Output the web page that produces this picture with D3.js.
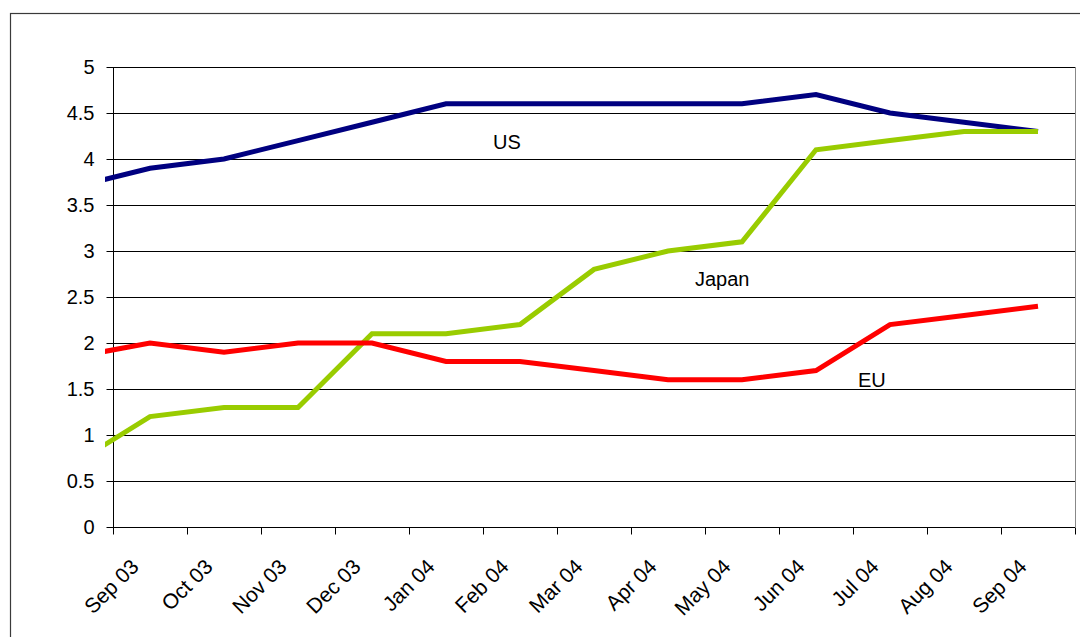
<!DOCTYPE html>
<html>
<head>
<meta charset="utf-8">
<script src="https://cdn.jsdelivr.net/npm/d3@7"></script>
<style>
  html, body { margin: 0; padding: 0; background: #fff; }
  svg { display: block; font-family: "Liberation Sans", Arial, sans-serif; }
</style>
</head>
<body>
<svg id="chart" width="1080" height="637"></svg>
<script>
// Monthly interest rates, %; the first entry (Aug 03) runs in from outside the axis.
const months = ["Aug 03", "Sep 03", "Oct 03", "Nov 03", "Dec 03", "Jan 04", "Feb 04", "Mar 04",
                "Apr 04", "May 04", "Jun 04", "Jul 04", "Aug 04", "Sep 04"];
const usRates    = [3.7, 3.9, 4.0, 4.2, 4.4, 4.6, 4.6, 4.6, 4.6, 4.6, 4.7, 4.5, 4.4, 4.3];
const japanRates = [0.7, 1.2, 1.3, 1.3, 2.1, 2.1, 2.2, 2.8, 3.0, 3.1, 4.1, 4.2, 4.3, 4.3];
const euRates    = [1.85, 2.0, 1.9, 2.0, 2.0, 1.8, 1.8, 1.7, 1.6, 1.6, 1.7, 2.2, 2.3, 2.4];
const yTicks = [0, 0.5, 1, 1.5, 2, 2.5, 3, 3.5, 4, 4.5, 5];
const axisMonths = months.slice(1);

const series = [
  { name: "US",    values: usRates,    color: "#000080", label: [493, 149] },
  { name: "Japan", values: japanRates, color: "#99CC00", label: [695, 286] },
  { name: "EU",    values: euRates,    color: "#FF0000", label: [858, 387] }
];

const svg = d3.select("#chart");
const plot = { left: 113, right: 1075, top: 67, bottom: 527 };

// Month slots: Sep 03 occupies [0,1], Sep 04 occupies [12,13]
const x = d3.scaleLinear().domain([0, axisMonths.length]).range([plot.left, plot.right]);
const y = d3.scaleLinear().domain([0, 5]).range([plot.bottom, plot.top]);
const xOf = i => x(i - 0.5);   // index into months -> slot centre

// Outer chart frame
svg.append("rect")
  .attr("x", 10.5).attr("y", 13.5)
  .attr("width", 1100).attr("height", 700)
  .attr("fill", "none").attr("stroke", "#3a3a3a").attr("stroke-width", 1.2);

// Horizontal gridlines
svg.append("g")
  .selectAll("line")
  .data(yTicks.filter(d => d > 0))
  .join("line")
  .attr("x1", plot.left).attr("x2", plot.right)
  .attr("y1", d => Math.round(y(d)) + 0.5).attr("y2", d => Math.round(y(d)) + 0.5)
  .attr("stroke", "#000").attr("stroke-width", 1);

// Right edge of plot area
svg.append("line")
  .attr("x1", plot.right + 0.5).attr("x2", plot.right + 0.5)
  .attr("y1", plot.top).attr("y2", plot.bottom)
  .attr("stroke", "#888").attr("stroke-width", 1);

// Y axis
const yAxis = d3.axisLeft(y).tickValues(yTicks).tickSize(7).tickPadding(12)
  .tickFormat(d => String(d));
const yg = svg.append("g").attr("transform", `translate(${plot.left + 0.5},0)`).call(yAxis);
yg.select(".domain").attr("stroke", "#000").attr("d", `M0,${plot.top}V${plot.bottom}`);
yg.selectAll(".tick line").attr("stroke", "#000");
yg.selectAll(".tick text")
  .attr("font-size", 20).attr("fill", "#000")
  .attr("font-family", "Liberation Sans, Arial, sans-serif");

// X axis: ticks on month boundaries, labels at month centres
const xAxis = d3.axisBottom(x).tickValues(d3.range(0, axisMonths.length + 1))
  .tickSize(7).tickFormat("");
const xg = svg.append("g").attr("transform", `translate(0,${plot.bottom + 0.5})`).call(xAxis);
xg.select(".domain").attr("stroke", "#000").attr("d", `M${plot.left},0H${plot.right}`);
xg.selectAll(".tick line").attr("stroke", "#000");

svg.append("g")
  .selectAll("text")
  .data(axisMonths)
  .join("text")
  .attr("transform", (d, i) => `translate(${x(i + 0.5) - 10},568) rotate(-45)`)
  .attr("text-anchor", "end")
  .attr("font-size", 21)
  .attr("fill", "#000")
  .text(d => d);

// Lines, clipped just left of the value axis
svg.append("clipPath").attr("id", "plot-clip")
  .append("rect").attr("x", 105).attr("y", 0).attr("width", 1000).attr("height", 637);

const line = d3.line().x((d, i) => xOf(i)).y(d => y(d));

const lines = svg.append("g").attr("clip-path", "url(#plot-clip)");
lines.selectAll("path")
  .data(series)
  .join("path")
  .attr("d", s => line(s.values))
  .attr("fill", "none")
  .attr("stroke", s => s.color)
  .attr("stroke-width", 5)
  .attr("stroke-linejoin", "miter");

// Series name labels
svg.append("g")
  .selectAll("text")
  .data(series)
  .join("text")
  .attr("x", s => s.label[0])
  .attr("y", s => s.label[1])
  .attr("font-size", 20)
  .attr("fill", "#000")
  .text(s => s.name);
</script>
</body>
</html>
